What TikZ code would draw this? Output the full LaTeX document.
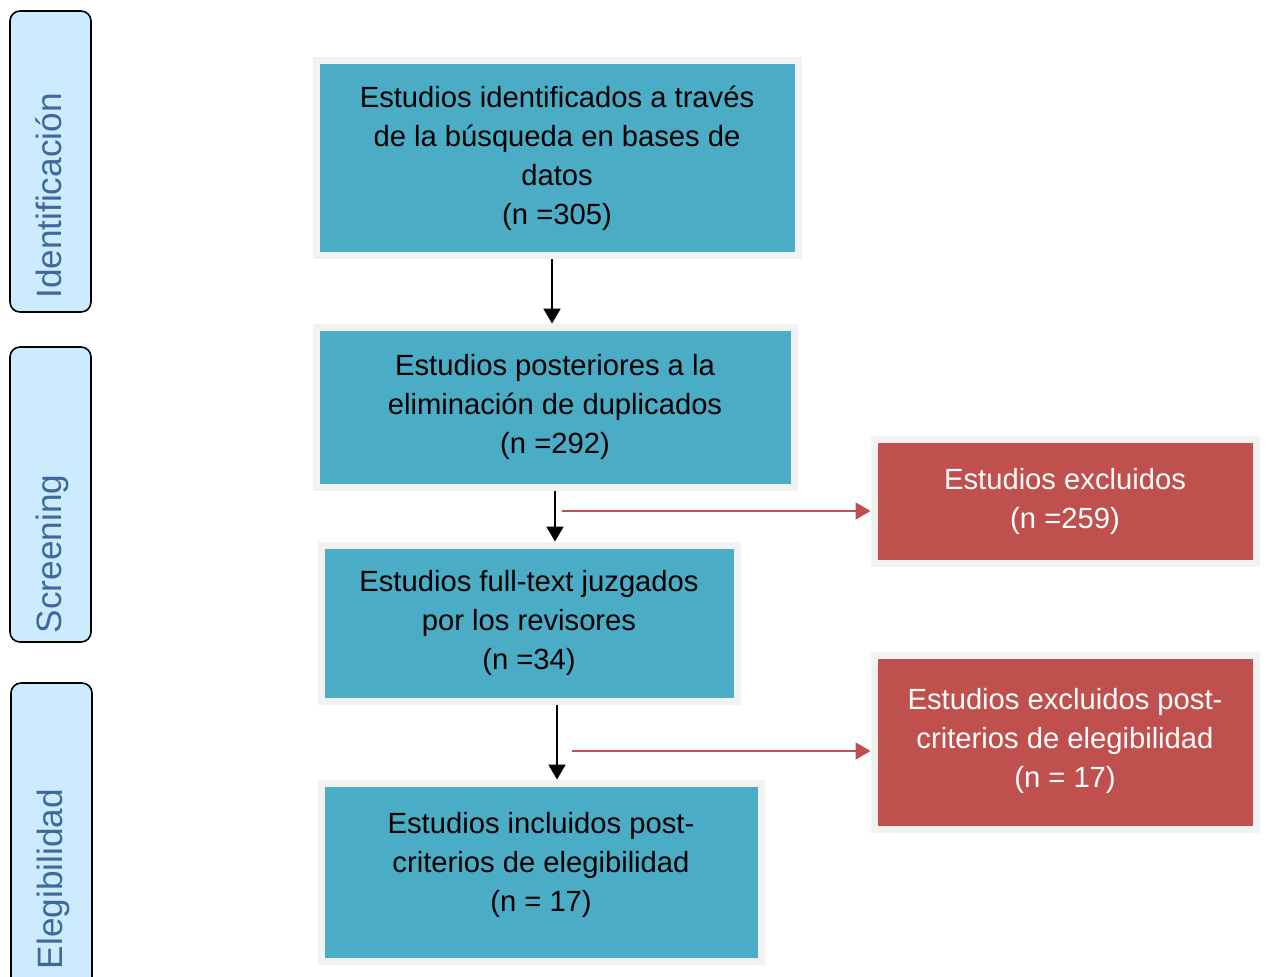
\documentclass[tikz,border=0pt]{standalone}
\usepackage{fontspec}
\setmainfont{Liberation Sans}
\usepackage{xcolor}
\usetikzlibrary{arrows.meta,shadows}

\definecolor{aqua}{HTML}{4BACC6}
\definecolor{brick}{HTML}{C0504D}
\definecolor{rim}{HTML}{F2F2F2}
\definecolor{phasefill}{HTML}{CCEBFF}
\definecolor{phasetext}{HTML}{3D6A9B}

\tikzset{
  box/.style={draw=rim, line width=3.5pt, align=center, inner sep=0pt,
    font=\fontsize{14.6}{19.5}\selectfont,
    drop shadow={shadow xshift=0.6pt, shadow yshift=-1.6pt, opacity=0.3, fill=black!70}},
  studybox/.style={box, fill=aqua, text=black},
  exclbox/.style={box, fill=brick, text=white},
  phasebox/.style={draw=black, line width=0.8pt, fill=phasefill, rounded corners=5pt,
    minimum width=40.5pt},
  phaselabel/.style={rotate=90, anchor=base, inner sep=0pt, text=phasetext,
    font=\fontsize{17.6}{19}\selectfont},
  flow/.style={-{Triangle[length=7.5pt,width=8.5pt]}, line width=1pt},
  outflow/.style={flow, brick}
}

\begin{document}
\begin{tikzpicture}[x=0.5pt, y=-0.5pt]
\path[use as bounding box, fill=white] (0,0) rectangle (1267,976);

% phases
\node[phasebox, minimum height=150.5pt] (idphase) at (50.5,161.5) {};
\node[phasebox, minimum height=147.5pt] (scrphase) at (50.5,494.5) {};
\node[phasebox, minimum height=158.5pt] (eligphase) at (51.5,841.5) {};
\node[phaselabel] (idtext) at (61,196) {Identificación};
\node[phaselabel] (scrtext) at (61,554) {Screening};
\node[phaselabel] (eligtext) at (62,879) {Elegibilidad};

% main flow
\node[studybox, minimum width=241pt, minimum height=97.5pt] (found) at (557,158)
  {Estudios identificados a través\\de la búsqueda en bases de\\datos\\(n =305)};
\node[studybox, minimum width=239pt, minimum height=80pt] (dedup) at (555,407)
  {Estudios posteriores a la\\eliminación de duplicados\\(n =292)};
\node[studybox, minimum width=208pt, minimum height=78pt] (fulltext) at (529,623)
  {Estudios full-text juzgados\\por los revisores\\(n =34)};
\node[studybox, minimum width=220pt, minimum height=89pt] (included) at (541,872)
  {Estudios incluidos post-\\criterios de elegibilidad\\(n = 17)\\[-9.5pt]};

% exclusions
\node[exclbox, minimum width=191pt, minimum height=62pt] (excl) at (1065,501)
  {Estudios excluidos\\(n =259)};
\node[exclbox, minimum width=191pt, minimum height=87pt] (exclpost) at (1065,742.5)
  {Estudios excluidos post-\\criterios de elegibilidad\\(n = 17)\\[-14.5pt]};

\coordinate (split1) at (562,511);
\coordinate (split2) at (572,751);

\draw[flow] ([xshift=-2.5pt]found.south) -- ([xshift=-2.5pt]found.south |- dedup.north);
\draw[flow] (dedup.south) -- (dedup.south |- fulltext.north);
\draw[flow] ([xshift=14pt]fulltext.south) -- ([xshift=14pt]fulltext.south |- included.north);
\draw[outflow] (split1) -- (split1 -| excl.west);
\draw[outflow] (split2) -- (split2 -| exclpost.west);
\end{tikzpicture}
\end{document}
